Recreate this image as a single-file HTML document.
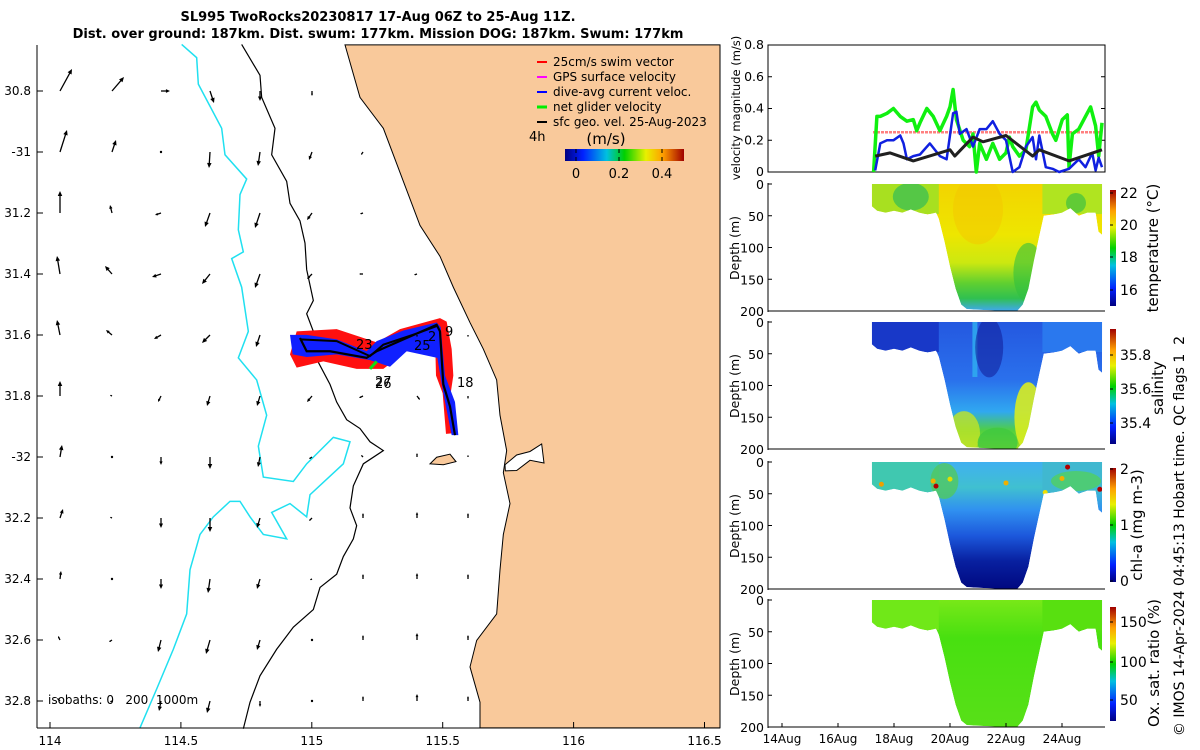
<!DOCTYPE html>
<html><head><meta charset="utf-8"><style>
html,body{margin:0;padding:0;background:#fff;}
svg{display:block;font-family:"DejaVu Sans","Liberation Sans",sans-serif;}
text{white-space:pre;}
</style></head><body>
<svg id="fig" width="1200" height="750" viewBox="0 0 1200 750" xmlns="http://www.w3.org/2000/svg">
<defs>
<linearGradient id="jet" x1="0" x2="1" y1="0" y2="0">
<stop offset="0" stop-color="#000080"/><stop offset="0.15" stop-color="#0020ff"/><stop offset="0.35" stop-color="#00c0e0"/><stop offset="0.5" stop-color="#00d000"/><stop offset="0.68" stop-color="#e8f000"/><stop offset="0.82" stop-color="#ffa000"/><stop offset="1" stop-color="#a00000"/></linearGradient>
<linearGradient id="jetv" x1="0" x2="0" y1="1" y2="0">
<stop offset="0" stop-color="#000080"/><stop offset="0.15" stop-color="#0020ff"/><stop offset="0.35" stop-color="#00c0e0"/><stop offset="0.5" stop-color="#00d000"/><stop offset="0.68" stop-color="#e8f000"/><stop offset="0.82" stop-color="#ffa000"/><stop offset="1" stop-color="#a00000"/></linearGradient>
<linearGradient id="gTemp" gradientUnits="userSpaceOnUse" x1="0" x2="0" y1="184" y2="311">
<stop offset="0" stop-color="#f2d400"/><stop offset="0.4" stop-color="#eee600"/><stop offset="0.62" stop-color="#cce810"/><stop offset="0.78" stop-color="#60d030"/><stop offset="0.9" stop-color="#30c050"/><stop offset="1" stop-color="#40a8f0"/></linearGradient>
<linearGradient id="gSal" gradientUnits="userSpaceOnUse" x1="0" x2="0" y1="322" y2="450">
<stop offset="0" stop-color="#2458e0"/><stop offset="0.45" stop-color="#2a70ec"/><stop offset="0.7" stop-color="#30a8f0"/><stop offset="0.85" stop-color="#50d040"/><stop offset="1" stop-color="#a8e020"/></linearGradient>
<linearGradient id="gChl" gradientUnits="userSpaceOnUse" x1="0" x2="0" y1="462" y2="589">
<stop offset="0" stop-color="#40b0f0"/><stop offset="0.2" stop-color="#40c0d0"/><stop offset="0.38" stop-color="#3090f0"/><stop offset="0.58" stop-color="#1c58dc"/><stop offset="0.78" stop-color="#0820a0"/><stop offset="1" stop-color="#000880"/></linearGradient>
<linearGradient id="gOx" gradientUnits="userSpaceOnUse" x1="0" x2="0" y1="600" y2="727">
<stop offset="0" stop-color="#78e818"/><stop offset="0.3" stop-color="#48e010"/><stop offset="1" stop-color="#58e018"/></linearGradient>
</defs>

<text x="378" y="21" text-anchor="middle" font-size="13" font-weight="bold">SL995 TwoRocks20230817 17-Aug 06Z to 25-Aug 11Z.</text>
<text x="378" y="38" text-anchor="middle" font-size="13" font-weight="bold">Dist. over ground: 187km. Dist. swum: 177km. Mission DOG: 187km. Swum: 177km</text>

<g id="map">
<rect x="37" y="45" width="683" height="683" fill="#fff"/>
<g transform="translate(150,40) scale(0.33333,0.4415)">
<polygon fill="#f9c99b" stroke="#000" stroke-width="1" vector-effect="non-scaling-stroke" points="585,11 630,130 700,200 760,320 810,420 870,490 910,560 960,640 1000,700 1040,770 1050,850 1070,930 1060,980 1080,1050 1060,1120 1050,1200 1040,1300 980,1360 960,1420 990,1500 990,1558 1710,1558 1710,11"/>
<polygon fill="#fff" stroke="#000" stroke-width="1" vector-effect="non-scaling-stroke" points="1065,962 1100,940 1140,932 1175,915 1182,958 1140,952 1100,975 1066,976"/>
<polygon fill="#f9c99b" stroke="#000" stroke-width="1" vector-effect="non-scaling-stroke" points="840,960 860,945 900,938 918,955 880,962"/>
<polyline fill="none" stroke="#20e0f0" stroke-width="1.5" vector-effect="non-scaling-stroke" points="95,10 140,40 145,100 215,200 225,260 290,315 270,350 265,430 280,480 245,495 275,560 295,660 265,720 320,770 350,850 325,920 340,990 430,1000 470,960 550,900 600,910 580,960 480,1030 470,1080 420,1050 365,1070 410,1130 340,1120 300,1080 270,1045 240,1045 190,1080 150,1120 120,1200 110,1300 70,1380 20,1470 -30,1558"/>
<polyline fill="none" stroke="#000" stroke-width="1.2" vector-effect="non-scaling-stroke" points="275,10 330,80 335,130 375,200 365,260 410,320 420,370 450,410 465,460 470,520 490,590 470,620 500,680 505,730 540,780 560,820 590,860 630,880 660,910 700,930 640,960 610,1010 600,1060 620,1100 610,1130 580,1170 560,1210 510,1240 490,1290 430,1330 380,1380 330,1440 300,1500 280,1560"/>
<polygon fill="#ff1010" points="440,660 560,655 680,685 750,655 870,630 890,638 905,700 910,760 900,810 922,890 888,892 878,800 858,760 856,700 770,705 700,745 620,745 520,728 440,742 420,712"/>
<polygon fill="#1020ff" points="420,668 470,668 560,678 650,705 680,682 760,658 860,640 872,650 885,760 915,820 925,895 905,895 880,800 862,720 770,705 720,740 660,725 560,712 470,718 428,712"/>
<polyline fill="none" stroke="#000" stroke-width="2.2" vector-effect="non-scaling-stroke" points="450,675 460,690 470,705 540,705 650,720 680,705 860,645 870,660 880,780 900,830 915,895"/>
<polyline fill="none" stroke="#000" stroke-width="2" vector-effect="non-scaling-stroke" points="450,678 560,682 660,716 700,690 800,665 860,648"/>
<polyline fill="none" stroke="#10e010" stroke-width="3" vector-effect="non-scaling-stroke" points="660,745 680,728"/>
</g>
<g id="arrows"></g>
<g font-size="13">
<text x="356" y="349">23</text><text x="414" y="350">25</text><text x="428" y="341">2</text><text x="445" y="336">9</text><text x="457" y="387">18</text><text x="375" y="386">27</text><text x="375" y="388">26</text>
</g>
<text x="48" y="704" font-size="12">isobaths: 0   200  1000m</text>
<g id="legend" font-size="12">
<g><line x1="537" y1="62" x2="547" y2="62" stroke="#f00" stroke-width="2"/><text x="553" y="66">25cm/s swim vector</text></g>
<g><line x1="537" y1="77" x2="547" y2="77" stroke="#f0f" stroke-width="2"/><text x="553" y="81">GPS surface velocity</text></g>
<g><line x1="537" y1="92" x2="547" y2="92" stroke="#00f" stroke-width="2"/><text x="553" y="96">dive-avg current veloc.</text></g>
<g><line x1="537" y1="107" x2="547" y2="107" stroke="#0e0" stroke-width="3"/><text x="553" y="111">net glider velocity</text></g>
<g><line x1="537" y1="122" x2="547" y2="122" stroke="#000" stroke-width="2"/><text x="553" y="126">sfc geo. vel. 25-Aug-2023</text></g>
<text x="529" y="141" font-size="13">4h</text>
<text x="606" y="144" font-size="15" text-anchor="middle">(m/s)</text>
<rect x="565" y="149" width="119" height="12" fill="url(#jet)"/>
<g id="mapcbticks"></g>
</g>
<g id="mapaxes" font-size="12"></g>
</g>

<g id="right" font-size="12"></g>
</svg>
<script>
const NS='http://www.w3.org/2000/svg';
function mk(tag,attrs,parent,txt){const e=document.createElementNS(NS,tag);for(const k in attrs)e.setAttribute(k,attrs[k]);if(txt!==undefined)e.textContent=txt;parent.appendChild(e);return e;}

// ---- map axes data ----
const lonTicks=[114,114.5,115,115.5,116,116.5];
const lonLabels=['114','114.5','115','115.5','116','116.5'];
const latTicks=[30.8,31,31.2,31.4,31.6,31.8,32,32.2,32.4,32.6,32.8];
const latLabels=['30.8','-31','31.2','31.4','31.6','31.8','-32','32.2','32.4','32.6','32.8'];
const cbTicks=[0,0.2,0.4];
const cbLabels=['0','0.2','0.4'];
// surface geostrophic velocity components (m/s), rows north->south, cols west->east; null = land
const geoU=[
[0.12,0.12,0.09,0.04,0,0,null,null,null],
[0.07,0.04,0,-0.01,-0.02,-0.03,-0.02,null,null],
[0,-0.02,-0.06,-0.05,-0.05,-0.05,-0.03,null,null],
[-0.03,-0.07,-0.09,-0.08,-0.05,-0.05,-0.04,-0.03,null],
[-0.03,-0.06,-0.07,-0.08,-0.04,null,null,0,0],
[0,-0.02,-0.03,-0.03,-0.03,-0.05,-0.04,0.03,0],
[0.02,0,0,0,-0.02,-0.03,-0.02,0,0],
[0.03,-0.02,0,0,-0.03,-0.03,0,0,0],
[0.01,0,0,-0.02,-0.03,-0.02,0,0,0],
[-0.02,-0.03,-0.03,-0.04,-0.03,0,0,0,0],
[-0.03,-0.02,-0.02,-0.03,0,0,0,0,0]];
const geoV=[
[0.22,0.14,0,-0.12,-0.10,-0.05,null,null,null],
[0.22,0.12,-0.01,-0.16,-0.14,-0.08,-0.03,null,null],
[0.22,0.08,-0.02,-0.14,-0.15,-0.07,-0.01,null,null],
[0.18,0.08,-0.03,-0.10,-0.14,-0.05,0,-0.01,null],
[0.15,0.05,-0.04,-0.08,-0.12,null,null,-0.02,-0.02],
[0.15,0.01,-0.06,-0.10,-0.10,-0.06,-0.02,-0.04,-0.03],
[0.12,0,-0.08,-0.12,-0.10,-0.02,0.02,0.04,0.02],
[0.09,0.01,-0.10,-0.14,-0.10,-0.03,0.05,0.06,0.05],
[0.08,0,-0.10,-0.14,-0.10,-0.01,0.05,0.06,0.05],
[0.04,-0.02,-0.12,-0.14,-0.10,0,0.05,0.07,0.05],
[0.03,-0.01,-0.10,-0.12,-0.06,0,0.05,0.07,0.05]];

const lonX=l=>50+(l-114)*261.8;
const latY=l=>91+(l-30.8)*305;
const ax=document.getElementById('mapaxes');
lonTicks.forEach((l,i)=>{const x=lonX(l);
 const t=mk('line',{x1:x,y1:728,x2:x,y2:722,stroke:'#000'},ax);
 
 const tx=mk('text',{x:x,y:745,'text-anchor':'middle'},ax,lonLabels[i]);
 });
latTicks.forEach((l,i)=>{const y=latY(l);
 const t=mk('line',{x1:37,y1:y,x2:43,y2:y,stroke:'#000'},ax);
 
 const tx=mk('text',{x:31,y:y+4,'text-anchor':'end'},ax,latLabels[i]);
 });
const al=mk('line',{x1:37,y1:45,x2:37,y2:728,stroke:'#000'},ax);

const ab=mk('line',{x1:37,y1:728,x2:720,y2:728,stroke:'#000'},ax);


const cbx=v=>576+v*215;
const cbg=document.getElementById('mapcbticks');
cbTicks.forEach((v,i)=>{const x=cbx(v);
 mk('line',{x1:x,y1:149,x2:x,y2:153,stroke:'#000'},cbg);
 mk('line',{x1:x,y1:161,x2:x,y2:157,stroke:'#000'},cbg);
 const tx=mk('text',{x:x,y:178,'text-anchor':'middle','font-size':'13'},cbg,cbLabels[i]);
 });

const arrG=document.getElementById('arrows');
const colX=[60,112,161,210,260,312,363,417,468];
for(let r=0;r<geoU.length;r++)for(let c=0;c<colX.length;c++){
 const u=geoU[r][c],v=geoV[r][c]; if(u===null)continue;
 const x0=colX[c],y0=91+61*r,dx=u*100,dy=-v*100,len=Math.hypot(dx,dy);
 const g=mk('g',{},arrG);
 
 
 if(len<1.5){mk('circle',{cx:x0,cy:y0,r:1.2,fill:'#000'},g);continue;}
 const x1=x0+dx,y1=y0+dy,ux=dx/len,uy=dy/len,h=Math.min(5,len*0.45);
 mk('line',{x1:x0,y1:y0,x2:x1-ux*h*0.6,y2:y1-uy*h*0.6,stroke:'#000','stroke-width':1.3},g);
 mk('polygon',{points:`${x1},${y1} ${x1-ux*h-uy*h*0.45},${y1-uy*h+ux*h*0.45} ${x1-ux*h+uy*h*0.45},${y1-uy*h-ux*h*0.45}`,fill:'#000'},g);
}

// ---- right panels ----
const dateTicks=[14,16,18,20,22,24];
const dateLabels=['14Aug','16Aug','18Aug','20Aug','22Aug','24Aug'];
const velTicks=[0,0.2,0.4,0.6,0.8];
const depthTicks=[0,50,100,150,200];
// velocity series (day of August, m/s)
const netDays=[17.27,17.39,17.51,17.75,17.98,18.22,18.46,18.69,18.81,18.93,19.17,19.40,19.64,19.88,20.0,20.11,20.23,20.47,20.70,20.82,20.94,21.06,21.30,21.53,21.77,22.0,22.12,22.24,22.48,22.71,22.95,23.07,23.19,23.42,23.66,23.78,24.01,24.19,24.25,24.37,24.60,24.84,25.02,25.20,25.31,25.43];
const netVel=[0,0.35,0.35,0.37,0.40,0.35,0.32,0.33,0.26,0.31,0.40,0.35,0.26,0.35,0.41,0.52,0.33,0.20,0.16,0.24,0,0.18,0.08,0.18,0.08,0.12,0.22,0.16,0.10,0.14,0.41,0.44,0.39,0.35,0.24,0.20,0.33,0.36,0.03,0.24,0.27,0.35,0.41,0.29,0.10,0.31];
const dacDays=[17.33,17.51,17.75,17.98,18.22,18.34,18.46,18.69,18.93,19.28,19.64,19.88,20.11,20.23,20.35,20.59,20.82,21.06,21.30,21.53,21.77,22.0,22.24,22.48,22.71,22.95,23.07,23.19,23.42,23.66,23.90,24.25,24.60,24.84,25.08,25.20,25.31,25.43];
const dacVel=[0.01,0.18,0.20,0.20,0.23,0.18,0.08,0.10,0.11,0.18,0.10,0.08,0.37,0.38,0.24,0.27,0.16,0.27,0.27,0.32,0.24,0.20,0,0.03,0.16,0.22,0.08,0.23,0.03,0.02,0,0.02,0.08,0.03,0.12,0.01,0.09,0.03];
const geoDays=[17.33,17.86,18.69,20.0,20.17,20.82,21.18,22.0,22.95,23.19,24.25,25.43];
const geoVel=[0.10,0.12,0.07,0.14,0.10,0.22,0.19,0.23,0.10,0.14,0.07,0.14];
const swimDays=[17.25,25.43];
const swimVel=[0.25,0.25];
// section coverage: profile bottom depth (m) vs day
const secDays=[17.21,17.4,17.7,18.0,18.3,18.6,18.9,19.2,19.5,19.6,19.8,20.0,20.2,20.4,20.6,21.0,21.5,22.0,22.4,22.6,22.8,23.0,23.2,23.35,23.7,24.0,24.3,24.6,24.9,25.2,25.3,25.43];
const secDepth=[35,42,45,42,45,40,45,48,45,55,90,130,165,190,197,198,199,200,200,190,165,120,80,50,48,45,38,50,45,45,75,80];

const R=document.getElementById('right');
const xd=d=>782+(d-14)*28;
const yv=v=>172-v/0.8*127;
const panels=[{top:184,name:'temperature'},{top:322,name:'salinity'},{top:462,name:'chl-a'},{top:600,name:'oxygen'}];
const yDep=(p,dep)=>p.top+dep/200*127;

// panel 1
const p1=mk('g',{},R);


mk('rect',{x:768,y:45,width:337,height:127,fill:'none',stroke:'#000'},p1);
velTicks.forEach(v=>{const y=yv(v);
 mk('line',{x1:768,y1:y,x2:772,y2:y,stroke:'#000'},p1);mk('line',{x1:1105,y1:y,x2:1101,y2:y,stroke:'#000'},p1);
 const t=mk('text',{x:764,y:y+4,'text-anchor':'end','font-size':'12.5'},p1,String(v));
 });
const vl=mk('text',{transform:'translate(740,108) rotate(-90)','text-anchor':'middle','font-size':'11.5'},p1,'velocity magnitude (m/s)');

function series(days,vals,color,w,name,dash){
 const pts=days.map((d,i)=>xd(d).toFixed(1)+','+yv(vals[i]).toFixed(1)).join(' ');
 const e=mk('polyline',{points:pts,fill:'none',stroke:color,'stroke-width':w,'stroke-linejoin':'round'},p1);
 if(dash)e.setAttribute('stroke-dasharray',dash);
 
 
}
series(swimDays,swimVel,'#ff8080',2.5,'swim-speed-line','3,1');
series(netDays,netVel,'#10f010',3.5,'net-glider-velocity-line');
series(dacDays,dacVel,'#1020e0',2.5,'dive-avg-current-line');
series(geoDays,geoVel,'#202020',3,'geostrophic-velocity-line');

// sections
function secPoly(p){
 let pts=[];
 pts.push(xd(secDays[0])+','+yDep(p,0));
 secDays.forEach((d,i)=>pts.push(xd(d).toFixed(1)+','+yDep(p,secDepth[i]).toFixed(1)));
 pts.push(xd(secDays[secDays.length-1])+','+yDep(p,0));
 return pts.join(' ');
}
const fills=['url(#gTemp)','url(#gSal)','url(#gChl)','url(#gOx)'];
const shallowCol=[['#a8e020','#b0e420'],['#1838c8','#2a78ee'],['#40c8b0','#40b8d0'],['#70e818','#58e010']];
const defs=document.querySelector('defs');
panels.forEach((p,k)=>{
 const g=mk('g',{},R);
 
 
 const cp=mk('clipPath',{id:'cp'+k},defs);
 mk('polygon',{points:secPoly(p)},cp);
 const sg=mk('g',{'clip-path':`url(#cp${k})`},g);
 const poly=mk('polygon',{points:secPoly(p),fill:fills[k]},sg);
 
 
 mk('rect',{x:xd(17.21),y:p.top,width:xd(19.6)-xd(17.21),height:30,fill:shallowCol[k][0]},sg);
 mk('rect',{x:xd(23.3),y:p.top,width:xd(25.45)-xd(23.3),height:30,fill:shallowCol[k][1]},sg);
 if(k===0){
  mk('ellipse',{cx:xd(18.6),cy:yDep(p,20),rx:18,ry:14,fill:'#40c050',opacity:0.8},sg);
  mk('ellipse',{cx:xd(21),cy:yDep(p,40),rx:25,ry:35,fill:'#f5c400',opacity:0.45},sg);
  mk('ellipse',{cx:xd(22.8),cy:yDep(p,140),rx:15,ry:30,fill:'#30c040',opacity:0.6},sg);
  mk('ellipse',{cx:xd(24.5),cy:yDep(p,30),rx:10,ry:10,fill:'#40c040',opacity:0.7},sg);
 }
 if(k===1){
  mk('ellipse',{cx:xd(22.8),cy:yDep(p,150),rx:14,ry:35,fill:'#d8ec20',opacity:0.9},sg);
  mk('ellipse',{cx:xd(20.5),cy:yDep(p,175),rx:16,ry:22,fill:'#c0e428',opacity:0.8},sg);
  mk('ellipse',{cx:xd(21.7),cy:yDep(p,190),rx:20,ry:15,fill:'#40c840',opacity:0.8},sg);
  mk('rect',{x:xd(20.8),y:p.top,width:5,height:55,fill:'#30b0f0',opacity:0.8},sg);
  mk('ellipse',{cx:xd(21.4),cy:yDep(p,40),rx:14,ry:30,fill:'#101c98',opacity:0.55},sg);
 }
 if(k===2){
  mk('ellipse',{cx:xd(19.8),cy:yDep(p,30),rx:14,ry:18,fill:'#50c860',opacity:0.8},sg);
  mk('ellipse',{cx:xd(24.5),cy:yDep(p,30),rx:25,ry:10,fill:'#50d060',opacity:0.8},sg);
  [[17.55,35,'#f0a000'],[19.4,30,'#f0b000'],[19.5,38,'#b00000'],[20.0,27,'#e0e000'],[22,33,'#f0b000'],[23.4,48,'#f0e000'],[24.0,26,'#f0b000'],[24.2,8,'#b00000'],[25.35,43,'#b00000'],[23.1,123,'#b00000']].forEach(q=>{
   mk('circle',{cx:xd(q[0]),cy:yDep(p,q[1]),r:2.5,fill:q[2]},sg);});
 }
 mk('line',{x1:768,y1:p.top-1,x2:768,y2:p.top+128,stroke:'#000'},g);
 mk('line',{x1:768,y1:p.top+127,x2:1105,y2:p.top+127,stroke:'#000'},g);
 depthTicks.forEach(d=>{const y=yDep(p,d);
  mk('line',{x1:768,y1:y,x2:772,y2:y,stroke:'#000'},g);
  const t=mk('text',{x:764,y:y+5,'text-anchor':'end','font-size':'12.5'},g,String(d));
  });
 const dl=mk('text',{transform:`translate(739,${p.top+64}) rotate(-90)`,'text-anchor':'middle','font-size':'12.5'},g,'Depth (m)');
 
});
dateTicks.forEach((d,i)=>{const x=xd(d);
 mk('line',{x1:x,y1:727,x2:x,y2:723,stroke:'#000'},R);
 const t=mk('text',{x:x,y:743,'text-anchor':'middle','font-size':'12'},R,dateLabels[i]);
 });

const cbs=[
 {y0:190,y1:306,ticks:[22,20,18,16],ys:[193,225,257,290],title:'temperature (°C)',tx:1158,ty:248,name:'temperature-colorbar'},
 {y0:329,y1:444,ticks:[35.8,35.6,35.4],ys:[355,389,423],title:'salinity',tx:1163,ty:388,name:'salinity-colorbar'},
 {y0:468,y1:582,ticks:[2,1,0],ys:[469,525,581],title:'chl-a (mg m-3)',tx:1142,ty:525,name:'chl-colorbar'},
 {y0:607,y1:721,ticks:[150,100,50],ys:[622,662,700],title:'Ox. sat. ratio (%)',tx:1159,ty:663,name:'oxygen-colorbar'}];
cbs.forEach(c=>{
 const g=mk('g',{},R);
 
 
 mk('rect',{x:1110,y:c.y0,width:6,height:c.y1-c.y0,fill:'url(#jetv)'},g);
 c.ticks.forEach((v,i)=>{
  mk('line',{x1:1110,y1:c.ys[i],x2:1113,y2:c.ys[i],stroke:'#000'},g);
  mk('text',{x:1120,y:c.ys[i]+5,'font-size':'14'},g,String(v));});
 mk('text',{transform:`translate(${c.tx},${c.ty}) rotate(-90)`,'text-anchor':'middle','font-size':'15'},g,c.title);
});
const im=mk('text',{transform:'translate(1184,536) rotate(-90)','text-anchor':'middle','font-size':'14'},R,'© IMOS 14-Apr-2024 04:45:13 Hobart time. QC flags 1  2');


</script>
</body></html>
